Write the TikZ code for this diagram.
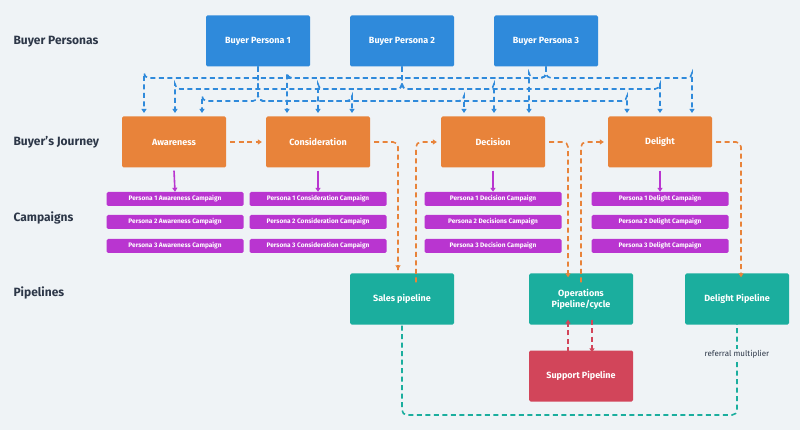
\documentclass[tikz,border=0pt]{standalone}
\usepackage{fontspec}
\setmainfont{Fira Sans}
\usetikzlibrary{arrows.meta}
\definecolor{bg}{HTML}{EFF3F6}
\definecolor{cblue}{HTML}{2F8ADB}
\definecolor{corange}{HTML}{E8833A}
\definecolor{cpurple}{HTML}{B935D0}
\definecolor{cteal}{HTML}{1BAE9E}
\definecolor{cred}{HTML}{D2455A}
\definecolor{ctext}{HTML}{2D3748}
\begin{document}
\begin{tikzpicture}[x=1pt,y=-1pt,
 box/.style={minimum width=104pt,minimum height=51pt,text=white,font=\bfseries\fontsize{9}{11}\selectfont,align=center,inner sep=1pt,rounded corners=1.5pt},
 camp/.style={minimum width=137pt,minimum height=14pt,fill=cpurple,text=white,font=\bfseries\fontsize{6.5}{7}\selectfont,inner sep=0pt,rounded corners=1.5pt},
 lab/.style={anchor=west,text=ctext,font=\bfseries\fontsize{12}{14}\selectfont},
 dsh/.style={dashed,dash pattern=on 5pt off 3.5pt,line width=1.6pt,rounded corners=5pt,-{Triangle[length=4pt,width=5pt]}},
 pa/.style={dsh,cblue},
 oa/.style={dsh,corange}]
\fill[bg] (0,0) rectangle (800,430);
\useasboundingbox (0,0) rectangle (800,430);
\node[lab] (l1) at (10,42) {Buyer Personas};
\node[lab] (l2) at (10,142) {Buyer's Journey};
\node[lab] (l3) at (10,218) {Campaigns};
\node[lab] (l4) at (10,293) {Pipelines};
\node[box,fill=cblue] (p1) at (258,41) {Buyer Persona 1};
\node[box,fill=cblue] (p2) at (402,41) {Buyer Persona 2};
\node[box,fill=cblue] (p3) at (546,41) {Buyer Persona 3};
\node[box,fill=corange] (aw) at (174,142) {Awareness};
\node[box,fill=corange] (co) at (318,142) {Consideration};
\node[box,fill=corange] (de) at (493,142) {Decision};
\node[box,fill=corange] (dl) at (660,142) {Delight};
\node[box,fill=cteal] (sp) at (402,299) {Sales pipeline};
\node[box,fill=cteal] (op) at (581,299) {Operations\\Pipeline/cycle};
\node[box,fill=cteal] (dp) at (737,299) {Delight Pipeline};
\node[box,fill=cred] (su) at (581,376) {Support Pipeline};
\foreach \s/\x/\n in {aw/175/Awareness,co/318/Consideration,de/493/Decision,dl/660/Delight}{
 \node[camp] (\s1) at (\x,199) {Persona 1 \n\ Campaign};
 \node[camp] (\s3) at (\x,246) {Persona 3 \n\ Campaign};
 \draw[cpurple,line width=1.6pt,-{Triangle[length=4pt,width=5pt]}] (\s.south) ++(0,3) -- (\s1.north);
}
\node[camp] (aw2) at (175,222) {Persona 2 Awareness Campaign};
\node[camp] (co2) at (318,222) {Persona 2 Consideration Campaign};
\node[camp] (de2) at (493,222) {Persona 2 Decisions Campaign};
\node[camp] (dl2) at (660,222) {Persona 2 Delight Campaign};
% persona connectors
\foreach \p/\r/\a/\b/\c/\d in {p1/101/202/352/464/627, p2/89/175/318/494/660, p3/78/144/287/529/692}{
 \foreach \t/\x in {aw/\a,co/\b,de/\c,dl/\d}{
  \draw[pa] (\p.south) -- (\p.south |- 0,\r) -| (\x,\r) -- (\x,113);
 }
}
% journey flow
\draw[oa] (aw.east) ++(4,0) -- ([xshift=-4pt]co.west);
\draw[oa] ([xshift=4pt]co.east) -| ([xshift=-4pt]sp.north) -- ++(0,-4);
\draw[oa] ([xshift=14pt,yshift=-9pt]sp.north) |- ([xshift=-4pt]de.west);
\draw[oa] ([xshift=4pt]de.east) -| ([xshift=-13pt,yshift=-4pt]op.north);
\draw[oa] ([yshift=-9pt]op.north) |- ([xshift=-4pt]dl.west);
\draw[oa] ([xshift=4pt]dl.east) -| ([xshift=4pt,yshift=-4pt]dp.north);
% support
\draw[dsh,cred] ([xshift=-13pt,yshift=-2pt]su.north) -- ([xshift=-13pt,yshift=5pt]op.south);
\draw[dsh,cred] ([xshift=11pt,yshift=5pt]op.south) -- ([xshift=11pt,yshift=-2pt]su.north);
% referral
\draw[dsh,cteal] ([yshift=5pt]dp.south) -- (737,415) -| ([yshift=5pt]sp.south);
\node[fill=bg,text=ctext,font=\fontsize{8}{10}\selectfont,inner sep=1pt] (rm) at (737,354) {referral multiplier};
\end{tikzpicture}
\end{document}
